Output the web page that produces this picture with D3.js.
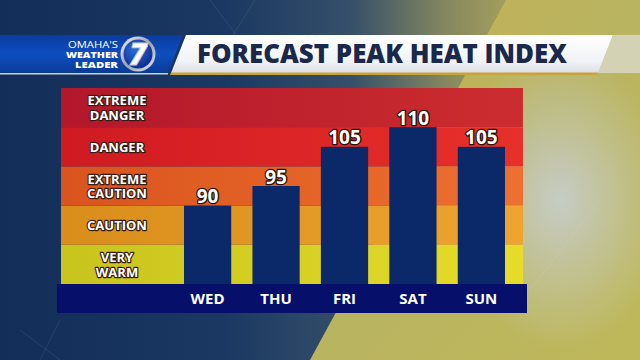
<!DOCTYPE html>
<html>
<head>
<meta charset="utf-8">
<script src="https://cdn.jsdelivr.net/npm/d3@7"></script>
<style>
  html, body { margin: 0; padding: 0; background: #15305a; }
  svg { display: block; }
  text { font-family: "Open Sans", "DejaVu Sans", sans-serif; }
</style>
</head>
<body>
<svg id="chart" width="640" height="360"></svg>
<script>
// ---- data ----
const days = ["WED", "THU", "FRI", "SAT", "SUN"];
const heatIndex = [90, 95, 105, 110, 105];
const bandEdges = [70, 80, 90, 100, 110, 120];
const bandNames = [["VERY", "WARM"], ["CAUTION"], ["EXTREME", "CAUTION"], ["DANGER"], ["EXTREME", "DANGER"]];
const bandColorsLeft = ["#c8c41e", "#d98d1a", "#d9541e", "#cf1a22", "#b3172b"];
const bandColorsRight = ["#e6dc2a", "#eea530", "#ee7030", "#e8302a", "#cc2d2f"];
const titleText = "FORECAST PEAK HEAT INDEX";
const logoLines = ["OMAHA'S", "WEATHER", "LEADER"];

const svg = d3.select("#chart");
const defs = svg.append("defs");

// ---- background ----
const bg = defs.append("linearGradient").attr("id", "bg").attr("x1", 0).attr("x2", 1).attr("y1", 0).attr("y2", 0);
[[0, "#132e58"], [0.35, "#1a3862"], [0.55, "#36506a"], [0.7, "#86885f"], [0.85, "#b6ad5c"], [1, "#c2b75e"]]
  .forEach(([o, c]) => bg.append("stop").attr("offset", o).attr("stop-color", c));
svg.append("rect").attr("width", 640).attr("height", 360).attr("fill", "url(#bg)");

const yel = defs.append("linearGradient").attr("id", "yel").attr("x1", 0).attr("x2", 1).attr("y1", 0).attr("y2", 1);
[[0, "#c6b052"], [0.5, "#b9b460"], [1, "#bfb85a"]]
  .forEach(([o, c]) => yel.append("stop").attr("offset", o).attr("stop-color", c));
svg.append("path").attr("d", "M506,0 L640,0 L640,360 L310,360 Z").attr("fill", "url(#yel)");

const glow = defs.append("radialGradient").attr("id", "glow").attr("cx", 0.5).attr("cy", 0.5).attr("r", 0.5);
glow.append("stop").attr("offset", 0).attr("stop-color", "#c8d0d8").attr("stop-opacity", 0.85);
glow.append("stop").attr("offset", 1).attr("stop-color", "#c8d0d8").attr("stop-opacity", 0);
svg.append("ellipse").attr("cx", 560).attr("cy", 200).attr("rx", 110).attr("ry", 150).attr("fill", "url(#glow)");

// faint diagonal decorative lines
svg.append("g").attr("stroke", "#ffffff").attr("stroke-opacity", 0.08).attr("stroke-width", 1)
  .selectAll("line").data([[210, 0, 240, 40], [255, 0, 230, 40], [20, 330, 60, 360], [60, 320, 40, 360], [530, 290, 600, 200]])
  .join("line").attr("x1", d => d[0]).attr("y1", d => d[1]).attr("x2", d => d[2]).attr("y2", d => d[3]);

// ---- header ----
const blue = defs.append("linearGradient").attr("id", "hblue").attr("x1", 0).attr("x2", 0).attr("y1", 0).attr("y2", 1);
[[0, "#0a3c9e"], [0.5, "#0d4fc0"], [1, "#0a3a96"]]
  .forEach(([o, c]) => blue.append("stop").attr("offset", o).attr("stop-color", c));
svg.append("path").attr("d", "M0,35 L183,35 L168,73 L0,73 Z").attr("fill", "url(#hblue)");
svg.append("rect").attr("x", 0).attr("y", 73).attr("width", 168).attr("height", 1.5).attr("fill", "#c9d3e6");

const white = defs.append("linearGradient").attr("id", "hwhite").attr("x1", 0).attr("x2", 0).attr("y1", 0).attr("y2", 1);
[[0, "#ffffff"], [0.7, "#f1f2f5"], [1, "#dcdfe6"]]
  .forEach(([o, c]) => white.append("stop").attr("offset", o).attr("stop-color", c));
svg.append("path").attr("d", "M186,35 L613,35 L598,73 L171,73 Z").attr("fill", "url(#hwhite)");
svg.append("path").attr("d", "M171,72.5 L598,72.5 L597,75 L170,75 Z").attr("fill", "#c9a23a");
svg.append("path").attr("d", "M613,35 L640,35 L640,73 L598,73 Z").attr("fill", "#dcdcd2").attr("opacity", 0.75);

svg.append("text").attr("x", 197).attr("y", 63)
  .attr("font-size", 26).attr("font-weight", 800).attr("fill", "#1b284b")
  .attr("textLength", 370).attr("lengthAdjust", "spacingAndGlyphs")
  .text(titleText);

// logo text: one text element, three lines
const logoText = svg.append("text").attr("fill", "#ffffff").attr("text-anchor", "end")
  .attr("font-size", 9.5).attr("x", 118).attr("y", 47.5);
const logoW = [50, 52, 43];
logoLines.forEach((l, i) => {
  logoText.append("tspan").attr("x", 118).attr("y", 47.5 + i * 10)
    .attr("font-weight", i === 0 ? 400 : 800)
    .attr("textLength", logoW[i]).attr("lengthAdjust", "spacingAndGlyphs")
    .text(l);
});

// 7 logo
const silver = defs.append("linearGradient").attr("id", "silver").attr("x1", 0).attr("x2", 1).attr("y1", 0).attr("y2", 1);
[[0, "#f2f2f4"], [0.5, "#9aa2b0"], [1, "#e6e8ec"]]
  .forEach(([o, c]) => silver.append("stop").attr("offset", o).attr("stop-color", c));
const inner = defs.append("radialGradient").attr("id", "inner").attr("cx", 0.4).attr("cy", 0.35).attr("r", 0.7);
inner.append("stop").attr("offset", 0).attr("stop-color", "#2f6ae0");
inner.append("stop").attr("offset", 1).attr("stop-color", "#0b2c8a");
svg.append("circle").attr("cx", 138).attr("cy", 54).attr("r", 17.5).attr("fill", "url(#silver)");
svg.append("circle").attr("cx", 138).attr("cy", 54).attr("r", 14.5).attr("fill", "url(#inner)");
svg.append("text").attr("x", 138).attr("y", 65).attr("text-anchor", "middle")
  .attr("font-size", 30).attr("font-weight", 800).attr("font-style", "italic")
  .attr("fill", "#ffffff").attr("stroke", "#c0c6d0").attr("stroke-width", 0.8)
  .text("7");

// ---- chart ----
const y = d3.scaleLinear().domain([bandEdges[0], bandEdges[bandEdges.length - 1]]).range([284, 88]);
const x = d3.scaleBand().domain(days).range([184, 505]).paddingInner(0.31).paddingOuter(0);
const panelLeft = 61, panelRight = 523;

const bands = bandNames.map((n, i) => ({ lo: bandEdges[i], hi: bandEdges[i + 1], name: n, i }));
bands.forEach(b => {
  const g = defs.append("linearGradient").attr("id", "band" + b.i).attr("x1", 0).attr("x2", 1).attr("y1", 0).attr("y2", 0);
  g.append("stop").attr("offset", 0).attr("stop-color", bandColorsLeft[b.i]);
  g.append("stop").attr("offset", 1).attr("stop-color", bandColorsRight[b.i]);
});
svg.append("g").selectAll("rect").data(bands).join("rect")
  .attr("x", panelLeft).attr("width", panelRight - panelLeft)
  .attr("y", d => y(d.hi)).attr("height", d => y(d.lo) - y(d.hi))
  .attr("fill", d => `url(#band${d.i})`);

// band labels: one text element per band, lines as tspans
const labelG = svg.append("g").attr("text-anchor", "middle");
bands.forEach(b => {
  const cy = (y(b.lo) + y(b.hi)) / 2;
  const n = b.name.length;
  const t = labelG.append("text")
    .attr("x", 117).attr("y", cy + 5)
    .attr("font-size", 13).attr("font-weight", 700)
    .attr("fill", "#ffffff").attr("stroke", "#3a1a10").attr("stroke-width", 2.4)
    .attr("paint-order", "stroke").attr("stroke-linejoin", "round");
  b.name.forEach((line, k) => {
    t.append("tspan").attr("x", 117).attr("y", cy + (k - (n - 1) / 2) * 14.5 + 5).text(line);
  });
});

// bars
const data = days.map((d, i) => ({ day: d, v: heatIndex[i] }));
svg.append("g").selectAll("rect").data(data).join("rect")
  .attr("x", d => x(d.day)).attr("width", x.bandwidth())
  .attr("y", d => y(d.v)).attr("height", d => y(bandEdges[0]) - y(d.v))
  .attr("fill", "#0b2868");

// value labels
svg.append("g").attr("text-anchor", "middle").selectAll("text").data(data).join("text")
  .attr("x", d => x(d.day) + x.bandwidth() / 2).attr("y", d => y(d.v) - 2.5)
  .attr("font-size", 19).attr("font-weight", 700)
  .attr("fill", "#ffffff").attr("stroke", "#2a1208").attr("stroke-width", 2.6)
  .attr("paint-order", "stroke").attr("stroke-linejoin", "round")
  .text(d => d.v);

// axis bar
svg.append("rect").attr("x", 57).attr("y", 284).attr("width", 470).attr("height", 29).attr("fill", "#06106a");
const axis = d3.axisBottom(x).tickSize(0).tickPadding(0);
const axG = svg.append("g").attr("transform", "translate(0,293)").call(axis);
axG.select(".domain").remove();
axG.selectAll("text").attr("font-size", 15).attr("font-weight", 700).attr("fill", "#ffffff")
  .attr("font-family", "'Open Sans', sans-serif").attr("dy", "0.71em");
</script>
</body>
</html>
